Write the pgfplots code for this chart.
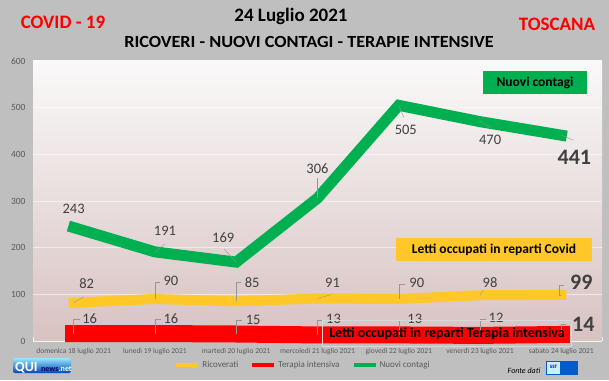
\documentclass[border=0pt]{standalone}
\usepackage{fontspec}
\setmainfont{Carlito}
\usepackage{pgfplots}
\pgfplotsset{compat=1.18}
\definecolor{bg}{RGB}{191,191,191}
\definecolor{cgreen}{RGB}{0,176,80}
\definecolor{cyellow}{RGB}{255,200,40}
\definecolor{cred}{RGB}{255,0,0}
\definecolor{lbl}{RGB}{64,64,64}
\definecolor{tickc}{RGB}{89,89,89}
\definecolor{plotbot}{RGB}{216,194,194}
\definecolor{plottop}{RGB}{250,249,249}
\definecolor{leader}{RGB}{150,150,150}
\begin{document}
\begin{tikzpicture}
\fill[bg] (0pt,0pt) rectangle (609pt,380pt);
\shade[top color=plottop, bottom color=plotbot] (33pt,39pt) rectangle (602pt,319pt);
% titles
\node[anchor=base, font=\fontsize{19}{22}\selectfont\bfseries, text=cred] at (63pt,351pt) {COVID - 19};
\node[anchor=base, font=\fontsize{19}{22}\selectfont\bfseries, text=cred] at (557pt,349pt) {TOSCANA};
\node[anchor=base, font=\fontsize{19}{22}\selectfont\bfseries] at (291pt,358pt) {24 Luglio 2021};
\node[anchor=base, xscale=1.07, font=\fontsize{17}{20}\selectfont\bfseries] at (309pt,332pt) {RICOVERI - NUOVI CONTAGI - TERAPIE INTENSIVE};
\begin{axis}[
  at={(33pt,39pt)}, anchor=south west, scale only axis,
  width=569pt, height=280pt,
  xmin=-0.5, xmax=6.5, ymin=0, ymax=600,
  axis line style={draw=none},
  tick pos=left,
  ytick={0,100,...,600},
  ymajorgrids,
  grid style={white, line width=0.8pt, opacity=0.55},
  major tick length=0pt,
  xtick={0,...,6},
  xticklabels={domenica 18 luglio 2021, lunedì 19 luglio 2021, martedì 20 luglio 2021, mercoledì 21 luglio 2021, giovedì 22 luglio 2021, venerdì 23 luglio 2021, sabato 24 luglio 2021},
  minor xtick={-0.5,0.5,...,6.5},
  minor tick length=4pt,
  minor tick style={draw=white!80!bg, line width=0.6pt},
  xticklabel style={font=\fontsize{7.5}{9}\selectfont, text=tickc, yshift=-4pt},
  yticklabel style={font=\fontsize{9.5}{11}\selectfont, text=tickc, xshift=-4pt},
  /pgf/number format/assume math mode=true,
  legend style={at={(0.4745,-0.0857)}, anchor=center, draw=none, fill=none,
    font=\fontsize{9}{11}\selectfont, text=tickc,
    /tikz/every even column/.append style={column sep=10pt}},
  legend columns=3,
  legend image code/.code={\draw[#1, line width=4pt] (0pt,0pt) -- (22pt,0pt);},
  clip=false
]
\draw[white!80!bg, line width=0.6pt] (axis cs:-0.5,0) -- (axis cs:6.5,0);
\addlegendimage{cyellow}
\addlegendentry{Ricoverati}
\addlegendimage{cred}
\addlegendentry{Terapia intensiva}
\addlegendimage{cgreen}
\addlegendentry{Nuovi contagi}
% Terapia intensiva
\addplot[cred, line width=17pt, line cap=rect, line join=miter, forget plot] coordinates {(0,16)(1,16)(2,15)(3,13)(4,13)(5,12)(6,14)};
% Ricoverati
\addplot[cyellow, line width=10pt, line cap=rect, line join=miter, forget plot] coordinates {(0,82)(1,90)(2,85)(3,91)(4,90)(5,98)(6,99)};
% Nuovi contagi
\addplot[cgreen, line width=11pt, line cap=rect, line join=miter, forget plot] coordinates {(0,243)(1,191)(2,169)(3,306)(4,505)(5,470)(6,441)};
% leaders
\begin{scope}[leader, line width=0.4pt]
\draw (axis cs:1,191) -- ([xshift=10pt,yshift=8pt]axis cs:1,191);
\draw (axis cs:2,169) -- ([xshift=-12pt,yshift=13pt]axis cs:2,169);
\draw (axis cs:3,306) -- ([yshift=20pt]axis cs:3,306);
\draw (axis cs:4,505) -- ([xshift=5pt,yshift=-12pt]axis cs:4,505);
\draw (axis cs:5,470) -- ([xshift=11pt,yshift=-6pt]axis cs:5,470);
\draw (axis cs:6,441) -- ([xshift=12pt,yshift=-5pt]axis cs:6,441);
% yellow
\draw (axis cs:0,82) -- ([xshift=10pt,yshift=6pt]axis cs:0,82);
\draw (axis cs:1,90) -- ([yshift=17pt]axis cs:1,90) -- ([xshift=5pt,yshift=17pt]axis cs:1,90);
\draw (axis cs:2,85) -- ([yshift=19pt]axis cs:2,85) -- ([xshift=5pt,yshift=19pt]axis cs:2,85);
\draw (axis cs:3,91) -- ([xshift=14pt,yshift=4pt]axis cs:3,91);
\draw (axis cs:4,90) -- ([yshift=15pt]axis cs:4,90) -- ([xshift=6pt,yshift=15pt]axis cs:4,90);
\draw (axis cs:5,98) -- ([xshift=3pt,yshift=5pt]axis cs:5,98);
\draw (axis cs:6,99) -- ([xshift=-2pt,yshift=0pt]axis cs:6,99) -- ([xshift=-2pt,yshift=10pt]axis cs:6,99) -- ([xshift=3pt,yshift=10pt]axis cs:6,99);
% red
\draw (axis cs:0,16) -- ([xshift=0pt,yshift=14pt]axis cs:0,16) -- ([xshift=6pt,yshift=14pt]axis cs:0,16);
\draw (axis cs:1,16) -- ([xshift=0pt,yshift=14pt]axis cs:1,16) -- ([xshift=6pt,yshift=14pt]axis cs:1,16);
\draw (axis cs:2,15) -- ([xshift=0pt,yshift=14pt]axis cs:2,15) -- ([xshift=6pt,yshift=14pt]axis cs:2,15);
\draw (axis cs:3,13) -- ([xshift=0pt,yshift=15pt]axis cs:3,13) -- ([xshift=6pt,yshift=15pt]axis cs:3,13);
\draw (axis cs:4,13) -- ([xshift=0pt,yshift=15pt]axis cs:4,13) -- ([xshift=6pt,yshift=15pt]axis cs:4,13);
\draw (axis cs:5,12) -- ([xshift=0pt,yshift=16pt]axis cs:5,12) -- ([xshift=6pt,yshift=16pt]axis cs:5,12);
\draw (axis cs:6,14) -- ([xshift=0pt,yshift=10pt]axis cs:6,14) -- ([xshift=5pt,yshift=10pt]axis cs:6,14);
\end{scope}
% data labels
\begin{scope}[every node/.style={font=\fontsize{14.5}{16}\selectfont, text=lbl, inner sep=0pt}]
\node at ([yshift=19pt]axis cs:0,243) {243};
\node at ([xshift=10pt,yshift=21pt]axis cs:1,191) {191};
\node at ([xshift=-13pt,yshift=24pt]axis cs:2,169) {169};
\node at ([yshift=30pt]axis cs:3,306) {306};
\node at ([xshift=7pt,yshift=-25pt]axis cs:4,505) {505};
\node at ([xshift=10pt,yshift=-18pt]axis cs:5,470) {470};
\node at ([xshift=13pt,yshift=19pt]axis cs:0,82) {82};
\node at ([xshift=16pt,yshift=18pt]axis cs:1,90) {90};
\node at ([xshift=16pt,yshift=19pt]axis cs:2,85) {85};
\node at ([xshift=15pt,yshift=16pt]axis cs:3,91) {91};
\node at ([xshift=18pt,yshift=16pt]axis cs:4,90) {90};
\node at ([xshift=10pt,yshift=13pt]axis cs:5,98) {98};
\node at ([xshift=16pt,yshift=15pt]axis cs:0,16) {16};
\node at ([xshift=16pt,yshift=15pt]axis cs:1,16) {16};
\node at ([xshift=17pt,yshift=14pt]axis cs:2,15) {15};
\node at ([xshift=16pt,yshift=16.5pt]axis cs:3,13) {13};
\node at ([xshift=16pt,yshift=16.5pt]axis cs:4,13) {13};
\node at ([xshift=16pt,yshift=18pt]axis cs:5,12) {12};
\end{scope}
\begin{scope}[every node/.style={font=\fontsize{22}{24}\selectfont\bfseries, text=lbl, inner sep=0pt}]
\node at ([xshift=13pt,yshift=-22pt]axis cs:6,441) {441};
\node at ([xshift=20pt,yshift=13pt]axis cs:6,99) {99};
\node at ([xshift=22pt,yshift=10pt]axis cs:6,14) {14};
\end{scope}
\end{axis}
% text boxes
\node[fill=cgreen, minimum width=104pt, minimum height=23pt, inner sep=0pt, font=\fontsize{13.5}{16}\selectfont\bfseries] at (535pt,297.5pt) {Nuovi contagi};
\node[fill=cyellow, minimum width=196pt, minimum height=23pt, inner sep=0pt, font=\fontsize{13.5}{16}\selectfont\bfseries] at (494pt,130.5pt) {Letti occupati in reparti Covid};
\draw[white!70!gray, line width=0.4pt] (322pt,34pt) rectangle (571pt,60pt);
\node[inner sep=0pt, font=\fontsize{14}{16}\selectfont\bfseries] at (447pt,46pt) {Letti occupati in reparti Terapia intensiva};
% logos
\shade[top color=blue!25!cyan!40!white, bottom color=blue!60!cyan!70!black, rounded corners=2pt] (13pt,7pt) rectangle (71pt,22pt);
\node[inner sep=0pt, anchor=base west, font=\fontsize{14}{14}\selectfont\bfseries, text=white] at (15pt,9pt) {QUI};
\node[inner sep=0pt, anchor=base west, font=\fontsize{8}{8}\selectfont\bfseries, text=blue!40!black] at (41pt,9pt) {news\textcolor{white}{.net}};
\node[inner sep=0pt, anchor=base, font=\fontsize{8}{9}\selectfont\itshape] at (524pt,7pt) {Fonte dati};
\fill[blue!55!cyan!80!black] (546pt,5pt) rectangle (578pt,19pt);
\fill[white!80!cyan] (547pt,6pt) rectangle (560pt,18pt);
\node[inner sep=0pt, font=\fontsize{5}{5}\selectfont\bfseries, text=blue!60!black] at (553.5pt,13pt) {SST};
\end{tikzpicture}
\end{document}
